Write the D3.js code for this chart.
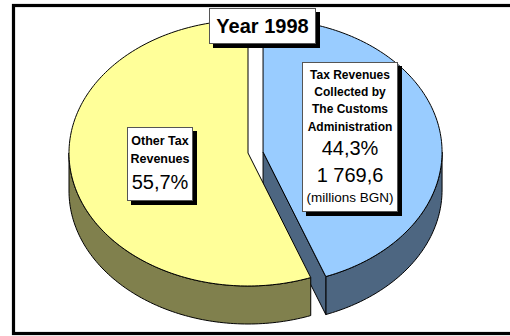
<!DOCTYPE html>
<html>
<head>
<meta charset="utf-8">
<script src="https://cdn.jsdelivr.net/npm/d3@7"></script>
<style>
  html, body { margin: 0; padding: 0; background: #fff; }
  svg { display: block; }
  text { font-family: "Liberation Sans", Arial, sans-serif; fill: #000; }
</style>
</head>
<body>
<svg id="chart" width="510" height="336"></svg>
<script>
// Tax revenue structure, 1998 (millions BGN)
const categories = ["Tax Revenues Collected by The Customs Administration", "Other Tax Revenues"];
const shares = [44.3, 55.7];
const shareLabels = ["44,3%", "55,7%"];
const customsAmountLabel = "1 769,6";
const unitLabel = "(millions BGN)";
const title = "Year 1998";

const topColors = ["#99ccff", "#ffff99"];
const sideColors = ["#4d6681", "#80804d"];

const svg = d3.select("#chart");

// Outer frame
svg.append("rect")
  .attr("x", 13.5).attr("y", 5.5)
  .attr("width", 520).attr("height", 328)
  .attr("fill", "#fff").attr("stroke", "#000").attr("stroke-width", 3.2);

// 3D pie geometry
const cx = 248, cy = 153, rx = 179, ry = 133, depth = 38, explode = 15.3;

const pie = d3.pie().sort(null).startAngle(0).endAngle(2 * Math.PI);
const arcs = pie(shares);

// point on the ellipse for an angle measured clockwise from 12 o'clock
const pt = (ox, oy, a, dy = 0) => [ox + rx * Math.sin(a), oy - ry * Math.cos(a) + dy];

function arcPoints(ox, oy, a0, a1, dy = 0) {
  const n = Math.max(2, Math.ceil(Math.abs(a1 - a0) / 0.02));
  return d3.range(n + 1).map(i => pt(ox, oy, a0 + (a1 - a0) * i / n, dy));
}

const line = d3.line();

function slice(d, i) {
  const g = svg.append("g");
  // only the customs slice is pulled out of the pie
  const mid = (d.startAngle + d.endAngle) / 2;
  const ex = i === 0 ? explode : 0;
  const ox = cx + ex * Math.sin(mid);
  const oy = cy - ex * Math.cos(mid) * (ry / rx) * 0.5;

  // outer wall on the front half of the ellipse
  const s0 = Math.max(d.startAngle, Math.PI / 2);
  const s1 = Math.min(d.endAngle, 3 * Math.PI / 2);
  if (s1 > s0) {
    const upper = arcPoints(ox, oy, s0, s1);
    const lower = arcPoints(ox, oy, s1, s0, depth);
    g.append("path")
      .attr("d", line(upper.concat(lower)) + "Z")
      .attr("fill", sideColors[i]).attr("stroke", "#000").attr("stroke-width", 1)
      .attr("stroke-linejoin", "round");
  }

  // cut face on the end edge when it faces the viewer
  if (d.endAngle > Math.PI / 2 && d.endAngle < Math.PI) {
    const e = pt(ox, oy, d.endAngle);
    const face = [[ox, oy], e, [e[0], e[1] + depth], [ox, oy + depth]];
    g.append("path")
      .attr("d", line(face) + "Z")
      .attr("fill", sideColors[i]).attr("stroke", "#000").attr("stroke-width", 1)
      .attr("stroke-linejoin", "round");
  }

  // top face
  const topPts = [[ox, oy]].concat(arcPoints(ox, oy, d.startAngle, d.endAngle));
  g.append("path")
    .attr("d", line(topPts) + "Z")
    .attr("fill", topColors[i]).attr("stroke", "#000").attr("stroke-width", 1)
    .attr("stroke-linejoin", "round");
}

// back slice first, front slice over it
slice(arcs[0], 0);
slice(arcs[1], 1);

// boxed label with a drop shadow
function box(x, y, w, h, shadow) {
  svg.append("rect").attr("x", x + shadow).attr("y", y + shadow)
    .attr("width", w).attr("height", h).attr("fill", "#000");
  svg.append("rect").attr("x", x + 0.5).attr("y", y + 0.5)
    .attr("width", w - 1).attr("height", h - 1)
    .attr("fill", "#fff").attr("stroke", "#555").attr("stroke-width", 1);
}

function lines(x, rows) {
  rows.forEach(r => {
    svg.append("text")
      .attr("x", x).attr("y", r.y)
      .attr("text-anchor", "middle")
      .attr("font-size", r.size)
      .attr("font-weight", r.bold ? "bold" : "normal")
      .text(r.t);
  });
}

// title
box(209, 8, 107, 36, 4);
lines(262.5, [{ t: title, y: 33, size: 20, bold: true }]);

// customs label
const customsWords = ["Tax Revenues", "Collected by", "The Customs", "Administration"];
box(302, 62, 96, 150, 4);
lines(350, [
  ...customsWords.map((t, k) => ({ t, y: 79 + k * 17.2, size: 12, bold: true })),
  { t: shareLabels[0], y: 155, size: 20 },
  { t: customsAmountLabel, y: 182, size: 20 },
  { t: unitLabel, y: 202, size: 13.5 }
]);

// other revenues label
box(127, 127, 66, 74, 4);
lines(160, [
  { t: "Other Tax", y: 145, size: 12.5, bold: true },
  { t: "Revenues", y: 163, size: 12.5, bold: true },
  { t: shareLabels[1], y: 189, size: 20 }
]);
</script>
</body>
</html>
